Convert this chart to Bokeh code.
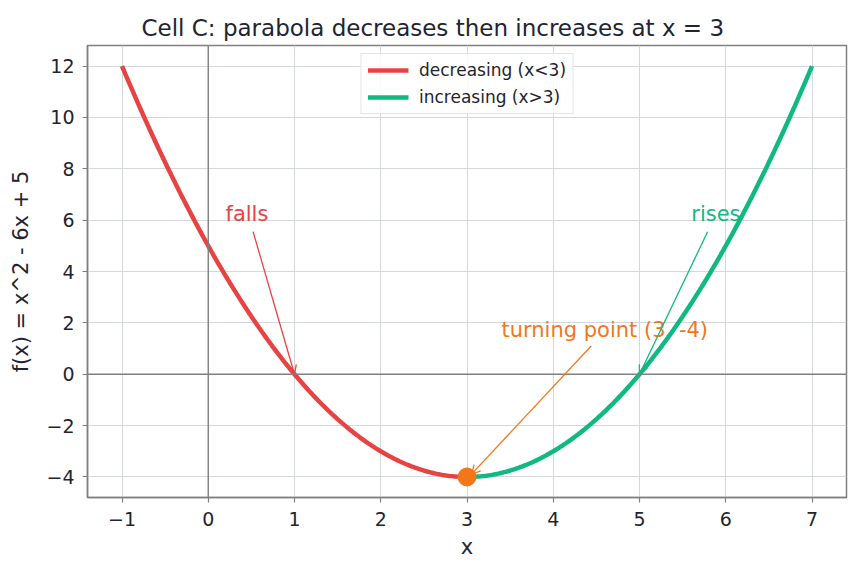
import numpy as np
from bokeh.plotting import figure
from bokeh.models import (Span, Arrow, OpenHead, Legend, LegendItem,
                          CustomJSTickFormatter, FixedTicker)
from bokeh.core.properties import value
from bokeh.embed import file_html
from bokeh.resources import INLINE

# f(x) = a x^2 + b x + c
coef_a, coef_b, coef_c = 1, -6, 5
x_lo, x_turn, x_hi = -1, 3, 7
x_ticks = [-1, 0, 1, 2, 3, 4, 5, 6, 7]
y_ticks = [-4, -2, 0, 2, 4, 6, 8, 10, 12]

def f(x):
    return coef_a * x ** 2 + coef_b * x + coef_c

x_dec = np.linspace(x_lo, x_turn, 200)
x_inc = np.linspace(x_turn, x_hi, 200)
y_turn = f(x_turn)

RED = "#e84343"
GREEN = "#10b981"
ORANGE = "#f2771a"
INK = "#1f2430"
FONT = "DejaVu Sans"

p = figure(width=860, height=573, output_backend="svg", toolbar_location=None,
           x_range=(-1.4, 7.4), y_range=(-4.8, 12.8),
           min_border_left=87, min_border_right=14, min_border_top=45,
           min_border_bottom=76)
p.background_fill_color = "white"
p.border_fill_color = "white"
p.outline_line_color = "#808080"
p.outline_line_width = 1.5

# title centred on the whole figure rather than on the frame
p.title.text = "Cell C: parabola decreases then increases at x = 3"
p.title.align = "left"
p.title.offset = 54
p.title.text_font = FONT
p.title.text_font_size = "23px"
p.title.text_font_style = "normal"
p.title.text_color = INK
p.title.standoff = 10

minus = CustomJSTickFormatter(code="return tick.toString().replace('-', '\u2212');")
for ax, ticks in ((p.xaxis, x_ticks), (p.yaxis, y_ticks)):
    ax.ticker = FixedTicker(ticks=ticks)
    ax.formatter = minus
    ax.axis_line_color = "#808080"
    ax.axis_line_width = 1.5
    ax.major_tick_line_color = "#808080"
    ax.major_tick_line_width = 1.2
    ax.major_tick_out = 5
    ax.major_tick_in = 0
    ax.minor_tick_line_color = None
    ax.major_label_text_font = FONT
    ax.major_label_text_font_size = "19px"
    ax.major_label_text_color = INK
    ax.axis_label_text_font = FONT
    ax.axis_label_text_font_size = "21px"
    ax.axis_label_text_font_style = "normal"
    ax.axis_label_text_color = INK
p.xaxis.axis_label = "x"
p.yaxis.axis_label = "f(x) = x^2 - 6x + 5"
p.xaxis.major_label_standoff = 9
p.yaxis.major_label_standoff = 8
p.xaxis.axis_label_standoff = 6
p.yaxis.axis_label_standoff = 10

p.grid.grid_line_color = "#d4d8dc"
p.grid.grid_line_width = 1

# coordinate axes through the origin
p.add_layout(Span(location=0, dimension="width", line_color="#808080", line_width=1.4))
p.add_layout(Span(location=0, dimension="height", line_color="#808080", line_width=1.4))

# annotation texts (baseline anchored)
note_style = dict(text_font=value(FONT), text_font_size="21px",
                  text_baseline="alphabetic", text_align="left", y_offset=-6)
p.text(x=[0.2], y=[6], text=["falls"], text_color=RED, **note_style)
p.text(x=[5.6], y=[6], text=["rises"], text_color=GREEN, **note_style)
p.text(x=[3.4], y=[1.5], text=[f"turning point ({x_turn}, {y_turn:g})"],
       text_color=ORANGE, **note_style)

r_dec = p.line(x_dec, f(x_dec), line_color=RED, line_width=4.5)
r_inc = p.line(x_inc, f(x_inc), line_color=GREEN, line_width=4.5)

p.scatter([x_turn], [y_turn], size=18, color=ORANGE)

# arrows from the labels to the curve
for (xs, ys, xe, ye, c) in ((0.52, 5.55, 1, f(1), RED),
                            (5.79, 5.55, 5, f(5), GREEN),
                            (4.44, 1.1, x_turn + 0.05, y_turn + 0.1, ORANGE)):
    p.add_layout(Arrow(x_start=xs, y_start=ys, x_end=xe, y_end=ye,
                       line_color=c, line_width=1.3,
                       end=OpenHead(size=9, line_color=c, line_width=1.3)))

legend = Legend(items=[LegendItem(label="decreasing (x<3)", renderers=[r_dec]),
                       LegendItem(label="increasing (x>3)", renderers=[r_inc])],
                location="top_center")
legend.label_text_font = FONT
legend.label_text_font_size = "17px"
legend.label_text_color = INK
legend.glyph_width = 41
legend.glyph_height = 20
legend.label_height = 20
legend.label_standoff = 11
legend.spacing = 7
legend.padding = 6
legend.margin = 8
legend.border_line_color = "#cccccc"
legend.border_line_width = 1
legend.background_fill_alpha = 0.85
p.add_layout(legend)

open("out.html", "w").write(file_html(p, INLINE))
